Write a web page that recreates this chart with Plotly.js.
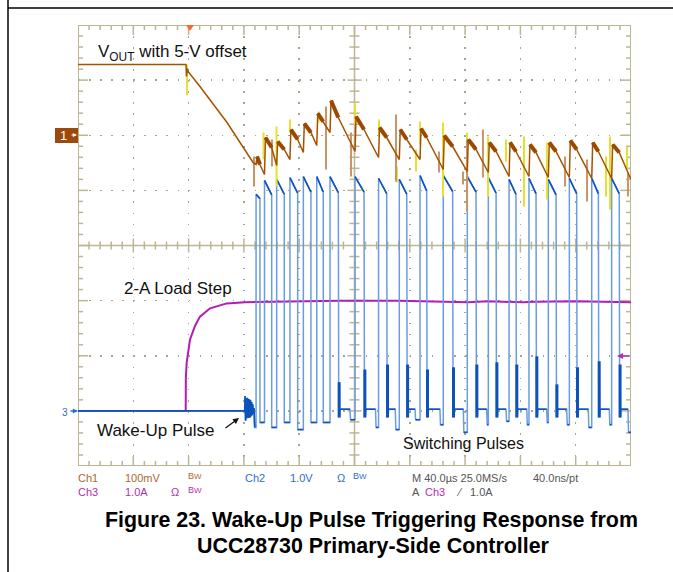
<!DOCTYPE html>
<html><head><meta charset="utf-8">
<script src="https://cdn.plot.ly/plotly-3.0.1.min.js"></script>
<style>html,body{margin:0;padding:0;background:#fff}#chart{width:673px;height:572px}</style>
</head><body><div id="chart"></div>
<script>
// ---------- DATA (time in µs, 40 µs/div) ----------
// Ch2 (switching waveform, V) – one entry per pulse
const pulseRiseUs = [128.8,134.9,143.7,153.3,163.0,172.7,182.3,200.4,217.4,232.4,247.4,264.2,281.6,296.8,311.8,326.2,340.2,355.4,371.6,386.0];
const pulseFallUs = [131.6,140.1,149.2,158.9,168.5,177.4,188.3,206.9,223.3,237.8,252.2,271.0,287.9,302.4,316.8,331.3,345.8,360.7,376.4,391.5];
const pulseTopV   = [3.93,4.18,4.20,4.23,4.25,4.25,4.25,4.25,4.22,4.20,4.27,4.27,4.25,4.23,4.20,4.22,4.20,4.22,4.22,4.22];
const pulseSagV   = [3.85,3.92,3.93,3.95,3.97,3.97,3.96,3.97,3.94,3.93,3.99,3.98,3.97,3.95,3.93,3.94,3.92,3.94,3.94,3.94];
const spikeTopV   = [null,null,null,null,null,null,0.52,0.75,0.84,0.84,0.75,0.79,0.84,0.88,0.84,0.99,0.48,0.79,0.90,0.84];
const spikeLowV   = -0.12;
const plateauV    = [null,null,null,null,null,null,0.03,0.03,0.03,0.03,0.03,0.03,0.03,0.03,0.03,0.03,0.03,0.03,0.03,0.03];
const plateauEndUs= [null,null,null,null,null,null,196.7,215.2,229.5,243.8,261.8,278.7,295.6,309.6,324.6,339.0,353.5,369.1,384.3,397.8];
const gapLowV     = [-0.21,-0.30,-0.21,-0.34,-0.21,-0.21,-0.16,-0.30,-0.34,-0.16,-0.25,-0.39,-0.25,-0.19,-0.25,-0.21,-0.25,-0.30,-0.25,-0.39];
// Ch2 baseline and wake-up burst
const wakeUs = [0,120.6,120.8,121.2,121.6,122.0,122.4,122.8,123.2,123.6,124.0,124.4,124.8,125.2,125.6,126.0,126.4,126.8,127.3,127.8];
const wakeV  = [0,0,0.27,-0.18,0.22,-0.14,0.24,-0.12,0.22,-0.13,0.21,-0.12,0.19,-0.10,0.16,-0.08,0.12,-0.05,0.05,-0.30];

// Ch3 (load current, A)
const ch3Us = [0,77.9,78.0,78.6,81.0,84.6,88.2,95.5,107.6,120.8,140,160,190,232,262,282,296,322,330,360,380,400];
const ch3A  = [0,0,0.60,0.87,1.29,1.54,1.71,1.86,1.95,1.97,1.98,1.99,2.00,2.00,1.99,1.97,1.99,1.97,1.98,1.99,1.98,1.97];

// Ch1 (VOUT with 5-V offset, mV)
const rampUs = [0,78.1,78.5,79.0,79.6,88.2,107.8,126.6];
const rampMV = [128.4,128.4,106.6,121.0,115.7,88.4,23.1,-49.4];
const rampEndMV = -53.1;
const ch1PeakMV  = [-38.5,-4.1,-11.3,10.4,21.3,39.5,63.0,34.0,14.1,10.4,12.2,-0.4,-7.7,-13.1,-13.1,-16.8,-13.1,-9.5,-13.1,-16.8];
const ch1FallMV  = [-53.1,-22.2,-25.8,-7.7,5.0,24.9,32.2,10.4,-4.1,-7.7,-4.1,-20.4,-25.8,-29.5,-29.5,-31.3,-29.5,-25.8,-29.5,-31.3];
const ch1TroughMV= [-71.2,-54.9,-44.0,-31.3,-18.6,5.0,-29.5,-40.4,-44.0,-44.0,-62.1,-65.8,-67.6,-74.8,-74.8,-76.6,-76.6,-78.5,-78.5,-80.3];
// Ch1 glitches (yellow and light-brown spikes)
const yelUs = [78.8,134.2,143.6,153.3,174.0,200.4,217.7,230.7,244.5,247.4,264.0,281.4,296.6,309.6,322.6,339.2,381.9,384.8,397.1];
const yelHi = [128.4,5.0,15.9,28.6,43.1,59.4,28.6,-56.7,-25.8,24.9,23.1,5.0,-2.3,-7.7,-2.3,-13.1,-38.5,-2.3,-20.4];
const yelLo = [72.1,-44.0,-93.0,5.0,23.1,19.5,-2.3,-85.7,-65.8,-16.8,-111.1,-85.7,-111.1,-47.6,-129.3,-116.6,-111.1,-134.7,-62.1];
const tanUs = [127.3,140.3,179.4,197.5,230.0,261.1,278.5,281.4,292.9,352.3,368.2,397.8];
const tanHi = [-38.5,-7.7,52.2,5.0,37.6,-29.5,-65.8,-7.7,10.4,-38.5,-44.0,-67.6];
const tanLo = [-93.0,-56.7,-62.1,-74.8,-83.9,-67.6,-89.3,-138.3,-76.6,-93.0,-120.2,-111.1];

// channel scale / position (divisions)
const CH1 = {scale:100, pos:2};   // 100 mV/div
const CH2 = {scale:1.0, pos:-3};  // 1.0 V/div
const CH3 = {scale:1.0, pos:-3};  // 1.0 A/div
const dv = (c,v) => v==null ? null : v/c.scale + c.pos;

// ---------- build traces ----------
const n = pulseRiseUs.length;
let lx=[], ly=[], dx=[], dy=[], sx=[], sy=[];
for (let i=0;i<wakeUs.length;i++){ lx.push(wakeUs[i]); ly.push(wakeV[i]); dx.push(wakeUs[i]); dy.push(wakeV[i]); }
dx.push(null); dy.push(null);
for (let i=0;i<n;i++){
  const tr=pulseRiseUs[i], tf=pulseFallUs[i];
  const prevLow = i===0 ? wakeV[wakeV.length-1] : gapLowV[i-1];
  const nextT = i<n-1 ? pulseRiseUs[i+1] : 400;
  lx.push(tr,tr,tf); ly.push(prevLow,pulseTopV[i],pulseSagV[i]);
  dx.push(tr,tf,null); dy.push(pulseTopV[i],pulseSagV[i],null);
  if (spikeTopV[i]==null){
    lx.push(tf); ly.push(gapLowV[i]);
    dx.push(tf,nextT,null); dy.push(gapLowV[i],gapLowV[i],null);
  } else {
    lx.push(tf+0.3,tf+0.6,tf+0.9,tf+1.4,plateauEndUs[i],plateauEndUs[i]+0.4);
    ly.push(spikeLowV,spikeTopV[i],spikeLowV,plateauV[i],plateauV[i],gapLowV[i]);
    sx.push(tf+0.6,tf+0.6,null); sy.push(spikeTopV[i],spikeLowV,null);
    dx.push(tf+1.4,plateauEndUs[i],null,plateauEndUs[i]+0.4,nextT,null);
    dy.push(plateauV[i],plateauV[i],null,gapLowV[i],gapLowV[i],null);
  }
  if (i===n-1){ lx.push(400); ly.push(gapLowV[i]); }
}
let c1x=[...rampUs], c1y=[...rampMV], bx=[], by=[];
for (let i=0;i<n;i++){
  const tr=pulseRiseUs[i], tf=pulseFallUs[i];
  const prev = i===0 ? rampEndMV : ch1TroughMV[i-1];
  c1x.push(tr,tr+0.7,tf); c1y.push(prev,ch1PeakMV[i],ch1FallMV[i]);
  bx.push(tr+0.7,tf,null); by.push(ch1PeakMV[i],ch1FallMV[i],null);
}
c1x.push(400); c1y.push(ch1TroughMV[n-1]);
let yx=[],yy=[],tx=[],ty=[];
yelUs.forEach((t,i)=>{yx.push(t,t,null); yy.push(yelHi[i],yelLo[i],null);});
tanUs.forEach((t,i)=>{tx.push(t,t,null); ty.push(tanHi[i],tanLo[i],null);});

const ln = (x,y,color,width,name) => ({type:'scatter',mode:'lines',x,y,name,line:{color,width,shape:'linear'},hoverinfo:'skip',showlegend:false});
const traces = [
  ln(ch3Us, ch3A.map(v=>dv(CH3,v)), '#b01cb4', 2, 'Ch3'),
  ln(lx, ly.map(v=>dv(CH2,v)), '#6a9de0', 1.5, 'Ch2'),
  ln(dx, dy.map(v=>dv(CH2,v)), '#0c52bb', 1.6, 'Ch2 slow'),
  ln(sx, sy.map(v=>dv(CH2,v)), '#0c52bb', 3, 'Ch2 burst'),
  ln(yx, yy.map(v=>dv(CH1,v)), '#e6e030', 2, 'Ch1 glitch'),
  ln(tx, ty.map(v=>dv(CH1,v)), '#c99466', 2, 'Ch1 glitch2'),
  ln(c1x, c1y.map(v=>dv(CH1,v)), '#a55200', 1.5, 'Ch1'),
  ln(bx, by.map(v=>dv(CH1,v)), '#9a4a00', 4, 'Ch1 band')
];

// ---------- graticule ----------
const L=78, T=25, W=553, H=441;
const GR='#bdb594';
const pxX = 400/W, pxY = 8/H;
const shapes=[];
shapes.push({type:'rect',xref:'x',yref:'y',x0:0,x1:400,y0:-4,y1:4,line:{color:GR,width:2},layer:'between'});
shapes.push({type:'line',xref:'x',yref:'y',x0:200,x1:200,y0:-4,y1:4,line:{color:GR,width:1.5},layer:'between'});
shapes.push({type:'line',xref:'x',yref:'y',x0:0,x1:400,y0:0,y1:0,line:{color:GR,width:1.5},layer:'between'});
for (let k=1;k<50;k++){
  const x=k*8, maj=k%5===0;
  const len=(maj?10:5)*pxY;
  shapes.push({type:'line',xref:'x',yref:'y',x0:x,x1:x,y0:4,y1:4-len,line:{color:GR,width:1.5},layer:'between'});
  shapes.push({type:'line',xref:'x',yref:'y',x0:x,x1:x,y0:-4,y1:-4+len,line:{color:GR,width:1.5},layer:'between'});
  if (k!==25){ const c=(maj?7:4)*pxY;
    shapes.push({type:'line',xref:'x',yref:'y',x0:x,x1:x,y0:-c,y1:c,line:{color:GR,width:1.5},layer:'between'}); }
}
for (let k=1;k<40;k++){
  const y=-4+k*0.2, maj=k%5===0;
  const len=(maj?10:5)*pxX;
  shapes.push({type:'line',xref:'x',yref:'y',x0:0,x1:len,y0:y,y1:y,line:{color:GR,width:1.5},layer:'between'});
  shapes.push({type:'line',xref:'x',yref:'y',x0:400,x1:400-len,y0:y,y1:y,line:{color:GR,width:1.5},layer:'between'});
  if (k!==20){ const c=(maj?7:5)*pxX;
    shapes.push({type:'line',xref:'x',yref:'y',x0:200-c,x1:200+c,y0:y,y1:y,line:{color:GR,width:1.5},layer:'between'}); }
}
const px2p = p => (p-L)/W, py2p = p => (T+H-p)/H;
shapes.push({type:'line',xref:'paper',yref:'paper',x0:px2p(8),x1:px2p(680),y0:py2p(8),y1:py2p(8),line:{color:'#000',width:1.5},layer:'above'});
shapes.push({type:'line',xref:'paper',yref:'paper',x0:px2p(8),x1:px2p(8),y0:py2p(-5),y1:py2p(580),line:{color:'#000',width:1.5},layer:'above'});
shapes.push({type:'rect',xref:'paper',yref:'paper',x0:px2p(55),x1:px2p(78),y0:py2p(143),y1:py2p(128),fillcolor:'#9c4a0c',line:{width:0},layer:'above'});
const trigUs = 81;
shapes.push({type:'path',xref:'x',yref:'paper',path:`M ${trigUs-2.9},${py2p(25)} L ${trigUs+2.9},${py2p(25)} L ${trigUs},${py2p(31)} Z`,fillcolor:'#ff6633',line:{width:0},layer:'above'});

// ---------- text ----------
const FONT='Liberation Sans, Arial, sans-serif';
const lab = (text,px,py,color,size) => ({xref:'paper',yref:'paper',x:px2p(px),y:py2p(py),xanchor:'left',yanchor:'middle',text,showarrow:false,font:{family:FONT,size,color},borderpad:0});
const arrow = (hx,hy,ax,ay,color,size,width) => ({xref:'paper',yref:'paper',x:px2p(hx),y:py2p(hy),ax,ay,text:'',showarrow:true,arrowhead:2,arrowsize:size,arrowwidth:width,arrowcolor:color});
const BR='#b0662e', BL='#2f6ccc', MG='#b030b4', GY='#555';
const ann = [
  lab('V<sub>OUT</sub> with 5-V offset',97,53,'#111',17),
  lab('2-A Load Step',123,288,'#111',17),
  lab('Wake-Up Pulse',96,430,'#111',17),
  lab('Switching Pulses',402,443,'#111',16),
  lab('Ch1',77,478,BR,11), lab('100mV',124,478,BR,11), lab('B<span style="font-size:8px">W</span>',187,476,BR,9),
  lab('Ch2',244,478,BL,11), lab('1.0V',289,478,BL,11), lab('Ω',336,478,BL,11), lab('B<span style="font-size:8px">W</span>',352,476,BL,9),
  lab('M 40.0µs 25.0MS/s',411,478,GY,11), lab('40.0ns/pt',532,478,GY,11),
  lab('Ch3',77,492,MG,11), lab('1.0A',124,492,MG,11), lab('Ω',170,492,MG,11), lab('B<span style="font-size:8px">W</span>',187,490,MG,9),
  lab('A',411,492,GY,11), lab('Ch3',424,492,MG,11), lab('⁄',455,492,GY,11), lab('1.0A',469,492,GY,11),
  {xref:'paper',yref:'paper',x:px2p(371.5),y:py2p(520),xanchor:'center',yanchor:'middle',showarrow:false,text:'<b>Figure 23. Wake-Up Pulse Triggering Response from</b>',font:{family:FONT,size:21.4,color:'#000'}},
  {xref:'paper',yref:'paper',x:px2p(372.5),y:py2p(546),xanchor:'center',yanchor:'middle',showarrow:false,text:'<b>UCC28730 Primary-Side Controller</b>',font:{family:FONT,size:21.4,color:'#000'}},
  lab('1',59,135,'#fff',13),
  arrow(77,135,-7,0,'#fff',0.7,1.2),
  lab('3',61,412,BL,10),
  arrow(78,411,-9,0,BL,0.8,1.3),
  arrow(617,356,14,0,MG,0.8,1.5),
  arrow(239,418,-15,11,'#111',1,1.2)
];

const layout = {
  width:673, height:572,
  margin:{l:L,r:673-L-W,t:T,b:572-T-H,pad:0},
  paper_bgcolor:'#fff', plot_bgcolor:'#fff',
  showlegend:false,
  xaxis:{range:[0,400],tick0:0,dtick:40,showticklabels:false,ticks:'',showgrid:true,gridcolor:'#aaa48a',gridwidth:1.5,griddash:'1.5px,9.53px',zeroline:false,showline:false,fixedrange:true},
  yaxis:{range:[-4,4],tick0:0,dtick:1,showticklabels:false,ticks:'',showgrid:true,gridcolor:'#aaa48a',gridwidth:1.5,griddash:'1.5px,9.56px',zeroline:false,showline:false,fixedrange:true},
  shapes, annotations:ann, font:{family:FONT}
};
Plotly.newPlot('chart', traces, layout, {staticPlot:true, displayModeBar:false});
</script></body></html>
